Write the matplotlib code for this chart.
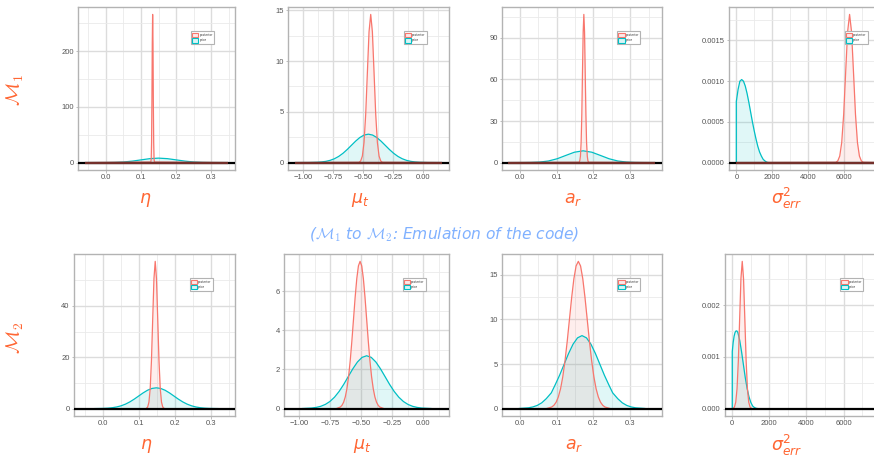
import matplotlib
matplotlib.use("Agg")
import matplotlib.pyplot as plt
from matplotlib.patches import Patch
from matplotlib.colors import to_rgba

# ---------------- data ----------------
# Row M1
m1_eta_post_x = [-0.059, 0.128, 0.129, 0.130, 0.131, 0.132, 0.133, 0.134, 0.135, 0.136, 0.137, 0.138, 0.346]
m1_eta_post_y = [0, 1, 7.6, 36, 109, 213, 266, 213, 109, 36, 7.6, 1, 0]
m1_eta_prior_x = [-0.059, 0.0, 0.025, 0.05, 0.075, 0.10, 0.125, 0.15, 0.175, 0.20, 0.225, 0.25, 0.275, 0.30, 0.346]
m1_eta_prior_y = [0, 0.09, 0.35, 1.08, 2.6, 4.85, 7.06, 8.0, 7.06, 4.85, 2.6, 1.08, 0.35, 0.09, 0]

m1_mu_post_x = [-1.07, -0.533, -0.519, -0.505, -0.491, -0.477, -0.463, -0.449, -0.435, -0.421, -0.407,
                -0.393, -0.379, -0.365, -0.351, -0.337, 0.16]
m1_mu_post_y = [0, 0.03, 0.16, 0.64, 1.98, 4.74, 8.85, 12.88, 14.6, 12.88, 8.85, 4.74, 1.98, 0.64, 0.16, 0.03, 0]
m1_mu_prior_x = [-1.07, -0.952, -0.881, -0.8455, -0.81, -0.7745, -0.739, -0.7035, -0.668, -0.6325, -0.597,
                 -0.5615, -0.526, -0.4905, -0.455, -0.4195, -0.384, -0.3485, -0.313, -0.2775, -0.242,
                 -0.2065, -0.171, -0.1355, -0.10, -0.0645, -0.029, 0.042, 0.16]
m1_mu_prior_y = [0, 0.006, 0.031, 0.064, 0.123, 0.223, 0.379, 0.606, 0.909, 1.282, 1.698, 2.113, 2.471,
                 2.714, 2.8, 2.714, 2.471, 2.113, 1.698, 1.282, 0.909, 0.606, 0.379, 0.223, 0.123, 0.064,
                 0.031, 0.006, 0]

m1_ar_post_x = [-0.031, 0.1611, 0.1629, 0.1648, 0.1666, 0.1685, 0.1703, 0.1722, 0.174, 0.1759, 0.1777,
                0.1796, 0.1814, 0.1833, 0.1851, 0.1870, 0.367]
m1_ar_post_y = [0, 0.24, 1.19, 4.70, 14.5, 34.7, 64.9, 94.4, 107, 94.4, 64.9, 34.7, 14.5, 4.70, 1.19, 0.24, 0]
m1_ar_prior_x = [-0.031, 0.0075, 0.031, 0.0545, 0.078, 0.1015, 0.125, 0.1485, 0.172, 0.1955, 0.219,
                 0.2425, 0.266, 0.2895, 0.313, 0.3365, 0.367]
m1_ar_prior_y = [0, 0.019, 0.094, 0.373, 1.15, 2.76, 5.16, 7.50, 8.5, 7.50, 5.16, 2.76, 1.15, 0.373,
                 0.094, 0.019, 0]

m1_sig_post_x = [0, 5560, 5670, 5780, 5890, 6000, 6110, 6220, 6330, 6440, 6550, 6660, 6770, 6880,
                 6990, 7100, 8180]
m1_sig_post_y = [0, 0.000004, 0.00002, 0.00008, 0.000246, 0.000591, 0.001104, 0.001606, 0.00182,
                 0.001606, 0.001104, 0.000591, 0.000246, 0.00008, 0.00002, 0.000004, 0]
m1_sig_prior_x = [0, 0, 100, 200, 300, 400, 500, 600, 700, 800, 900, 1000, 1100, 1200, 1300, 1400,
                  1500, 1600, 1700, 1800, 8180]
m1_sig_prior_y = [0, 0.00075, 0.00090, 0.00100, 0.00102, 0.00100, 0.00094, 0.00085, 0.00074, 0.00062,
                  0.00050, 0.00039, 0.00029, 0.00020, 0.00013, 0.00008, 0.00004, 0.00002, 0.000005, 0, 0]

# Row M2
m2_eta_post_x = [0.1215, 0.125, 0.1285, 0.132, 0.1355, 0.139, 0.1425, 0.146, 0.1495, 0.153, 0.1565,
                 0.160, 0.1635, 0.167, 0.1705]
m2_eta_post_y = [0.13, 0.64, 2.52, 7.75, 18.6, 34.75, 50.57, 57.3, 50.57, 34.75, 18.6, 7.75, 2.52, 0.64, 0.13]
m2_eta_prior_x = [-0.0225, 0.002, 0.01425, 0.0265, 0.03875, 0.051, 0.06325, 0.0755, 0.08775, 0.100,
                  0.11225, 0.1245, 0.13675, 0.149, 0.16125, 0.1735, 0.18575, 0.198, 0.21025, 0.2225,
                  0.23475, 0.247, 0.25925, 0.2715, 0.28375, 0.296, 0.3205]
m2_eta_prior_y = [0.018, 0.09, 0.185, 0.356, 0.645, 1.10, 1.752, 2.63, 3.708, 4.91, 6.114, 7.15, 7.851,
                  8.1, 7.851, 7.15, 6.114, 4.91, 3.708, 2.63, 1.752, 1.10, 0.645, 0.356, 0.185, 0.09, 0.018]

m2_mu_post_x = [-0.6955, -0.669, -0.65575, -0.6425, -0.62925, -0.616, -0.60275, -0.5895, -0.5763, -0.563,
                -0.5498, -0.5365, -0.5233, -0.51, -0.4968, -0.4835, -0.4703, -0.457, -0.4438, -0.4305,
                -0.41725, -0.404, -0.39075, -0.3775, -0.36425, -0.351, -0.3245]
m2_mu_post_y = [0.017, 0.083, 0.171, 0.33, 0.599, 1.02, 1.627, 2.44, 3.44, 4.56, 5.68, 6.64, 7.29, 7.52,
                7.29, 6.64, 5.68, 4.56, 3.44, 2.44, 1.627, 1.02, 0.599, 0.33, 0.171, 0.083, 0.017]
m2_mu_prior_x = [-0.975, -0.901, -0.864, -0.827, -0.79, -0.753, -0.716, -0.679, -0.642, -0.605, -0.568,
                 -0.531, -0.494, -0.457, -0.42, -0.383, -0.346, -0.309, -0.272, -0.235, -0.198, -0.161,
                 -0.124, -0.087, -0.05, -0.013, 0.061]
m2_mu_prior_y = [0.006, 0.030, 0.062, 0.119, 0.215, 0.365, 0.584, 0.877, 1.236, 1.638, 2.038, 2.383,
                 2.617, 2.7, 2.617, 2.383, 2.038, 1.638, 1.236, 0.877, 0.584, 0.365, 0.215, 0.119, 0.062,
                 0.030, 0.006]

m2_ar_post_x = [0.0743, 0.0864, 0.09245, 0.0985, 0.10455, 0.1106, 0.11665, 0.1227, 0.12875, 0.1348,
                0.14085, 0.1469, 0.15295, 0.159, 0.16505, 0.1711, 0.17715, 0.1832, 0.18925, 0.1953,
                0.20135, 0.2074, 0.21345, 0.2195, 0.22555, 0.2316, 0.2437]
m2_ar_post_y = [0.036, 0.18, 0.376, 0.72, 1.313, 2.23, 3.569, 5.36, 7.55, 10.0, 12.45, 14.56, 15.99, 16.5,
                15.99, 14.56, 12.45, 10.0, 7.55, 5.36, 3.569, 2.23, 1.313, 0.72, 0.376, 0.18, 0.036]
m2_ar_prior_x = [-0.0018, 0.0226, 0.0348, 0.047, 0.0592, 0.0714, 0.0854, 0.0958, 0.108, 0.1202, 0.1324,
                 0.1446, 0.1568, 0.169, 0.1812, 0.1934, 0.2056, 0.2178, 0.230, 0.2422, 0.2526, 0.2666,
                 0.2788, 0.291, 0.3032, 0.3154, 0.3398]
m2_ar_prior_y = [0.018, 0.091, 0.187, 0.359, 0.651, 1.107, 1.769, 2.656, 3.745, 4.961, 6.174, 7.219,
                 7.928, 8.18, 7.928, 7.219, 6.174, 4.961, 3.745, 2.656, 1.769, 1.107, 0.651, 0.359,
                 0.187, 0.091, 0.018]

m2_sig_post_x = [47, 117, 187, 257, 327, 397, 467, 537, 607, 677, 747, 817, 887, 957, 1027]
m2_sig_post_y = [0.0000063, 0.0000316, 0.000125, 0.000385, 0.000923, 0.001724, 0.002509, 0.002843,
                 0.002509, 0.001724, 0.000923, 0.000385, 0.000125, 0.0000316, 0.0000063]
m2_sig_prior_x = [0, 0, 50, 100, 150, 200, 250, 300, 400, 500, 600, 700, 800, 900, 1000, 1100, 1200, 1300, 1400]
m2_sig_prior_y = [0, 0.00110, 0.00128, 0.00140, 0.00147, 0.00150, 0.00150, 0.00147, 0.00132, 0.00110,
                  0.00085, 0.00060, 0.00039, 0.00023, 0.00012, 0.00005, 0.00002, 0.000005, 0]

# tick values
eta_xticks = [0.0, 0.1, 0.2, 0.3]
mu_xticks = [-1.00, -0.75, -0.50, -0.25, 0.00]
ar_xticks = [0.0, 0.1, 0.2, 0.3]
sig_xticks = [0, 2000, 4000, 6000]

m1_eta_yticks = [0, 100, 200]
m1_mu_yticks = [0, 5, 10, 15]
m1_ar_yticks = [0, 30, 60, 90]
m1_sig_yticks = [0.0, 0.0005, 0.0010, 0.0015]
m2_eta_yticks = [0, 20, 40]
m2_mu_yticks = [0, 2, 4, 6]
m2_ar_yticks = [0, 5, 10, 15]
m2_sig_yticks = [0.000, 0.001, 0.002]

legend_labels = ["posterior", "prior"]
row_labels = [r"$\mathcal{M}_1$", r"$\mathcal{M}_2$"]
x_labels = [r"$\eta$", r"$\mu_t$", r"$a_r$", r"$\sigma^2_{err}$"]
title_text = r"($\mathcal{M}_1$ to $\mathcal{M}_2$: Emulation of the code)"

# ---------------- style ----------------
RED = "#F8766D"
TEAL = "#00BFC4"
LABEL_COLOR = "#FF6633"
TITLE_COLOR = "#80B1FF"
W, H = 874, 457

fig = plt.figure(figsize=(W / 100, H / 100), dpi=100)
fig.patch.set_facecolor("white")


def add_axes_px(l, t, r, b):
    return fig.add_axes([l / W, 1 - b / H, (r - l) / W, (b - t) / H])


def fmt_ticks(vals, fmt):
    return [fmt.format(v).replace("-", "\u2212") for v in vals]


def minors(ticks):
    step = ticks[1] - ticks[0]
    return [t + step / 2 for t in [ticks[0] - step] + list(ticks)] + [ticks[-1] + 1.5 * step]


panels = [
    dict(row=0, box=(78, 7, 235, 170), xlim=(-0.079, 0.367), xt=eta_xticks, xf="{:.1f}",
         yt=m1_eta_yticks, yf="{:.0f}", post=(m1_eta_post_x, m1_eta_post_y),
         prior=(m1_eta_prior_x, m1_eta_prior_y), lab=0, lpos=(145, 200)),
    dict(row=0, box=(288, 7, 449, 170), xlim=(-1.128, 0.221), xt=mu_xticks, xf="{:.2f}",
         yt=m1_mu_yticks, yf="{:.0f}", post=(m1_mu_post_x, m1_mu_post_y),
         prior=(m1_mu_prior_x, m1_mu_prior_y), lab=1, lpos=(360, 200)),
    dict(row=0, box=(502, 7, 662, 170), xlim=(-0.048, 0.386), xt=ar_xticks, xf="{:.1f}",
         yt=m1_ar_yticks, yf="{:.0f}", post=(m1_ar_post_x, m1_ar_post_y),
         prior=(m1_ar_prior_x, m1_ar_prior_y), lab=2, lpos=(573, 199)),
    dict(row=0, box=(729, 7, 890, 170), xlim=(-409, 8589), xt=sig_xticks, xf="{:.0f}",
         yt=m1_sig_yticks, yf="{:.4f}", post=(m1_sig_post_x, m1_sig_post_y),
         prior=(m1_sig_prior_x, m1_sig_prior_y), lab=3, lpos=(787, 198)),
    dict(row=1, box=(74, 254, 235, 416), xlim=(-0.080, 0.368), xt=eta_xticks, xf="{:.1f}",
         yt=m2_eta_yticks, yf="{:.0f}", post=(m2_eta_post_x, m2_eta_post_y),
         prior=(m2_eta_prior_x, m2_eta_prior_y), lab=0, lpos=(146, 446)),
    dict(row=1, box=(284, 254, 449, 416), xlim=(-1.123, 0.2065), xt=mu_xticks, xf="{:.2f}",
         yt=m2_mu_yticks, yf="{:.0f}", post=(m2_mu_post_x, m2_mu_post_y),
         prior=(m2_mu_prior_x, m2_mu_prior_y), lab=1, lpos=(362, 446)),
    dict(row=1, box=(502, 254, 662, 416), xlim=(-0.049, 0.387), xt=ar_xticks, xf="{:.1f}",
         yt=m2_ar_yticks, yf="{:.0f}", post=(m2_ar_post_x, m2_ar_post_y),
         prior=(m2_ar_prior_x, m2_ar_prior_y), lab=2, lpos=(574, 445)),
    dict(row=1, box=(725, 254, 885, 416), xlim=(-392, 8232), xt=sig_xticks, xf="{:.0f}",
         yt=m2_sig_yticks, yf="{:.3f}", post=(m2_sig_post_x, m2_sig_post_y),
         prior=(m2_sig_prior_x, m2_sig_prior_y), lab=3, lpos=(787, 445)),
]

for p in panels:
    ax = add_axes_px(*p["box"])
    ax.set_facecolor("white")
    qx, qy = p["post"]
    px_, py_ = p["prior"]
    ymax = max(max(qy), max(py_))

    ax.set_xticks(p["xt"])
    ax.set_xticklabels(fmt_ticks(p["xt"], p["xf"]))
    ax.set_yticks(p["yt"])
    ax.set_yticklabels(fmt_ticks(p["yt"], p["yf"]))
    ax.set_xticks(minors(p["xt"]), minor=True)
    ax.set_yticks(minors(p["yt"]), minor=True)
    ax.set_xlim(*p["xlim"])
    ax.set_ylim(-0.05 * ymax, 1.05 * ymax)

    for s in ax.spines.values():
        s.set_color("#B3B3B3")
        s.set_linewidth(1.0)
    ax.grid(which="major", color="#DCDCDC", lw=1.0)
    ax.grid(which="minor", color="#EAEAEA", lw=0.6)
    ax.set_axisbelow(True)
    ax.tick_params(which="major", length=1.8, width=0.6, color="#B3B3B3",
                   labelsize=5.5, labelcolor="#555555", pad=1.3)
    ax.tick_params(which="minor", length=0)
    for lab in ax.get_xticklabels() + ax.get_yticklabels():
        lab.set_fontfamily("Liberation Sans")

    ax.fill_between(px_, py_, 0, color=TEAL, alpha=0.12, lw=0, zorder=2)
    ax.fill_between(qx, qy, 0, color=RED, alpha=0.12, lw=0, zorder=2)
    ax.plot(px_, py_, color=TEAL, lw=0.9, zorder=3)
    ax.plot(qx, qy, color=RED, lw=0.9, zorder=3)
    ax.axhline(0, color="black", lw=1.6, zorder=4)
    if p["row"] == 0:
        ax.plot([min(qx), max(qx)], [0, 0], color="#74302B", lw=1.6, zorder=5,
                solid_capstyle="butt")

    handles = [Patch(facecolor=to_rgba(RED, 0.15), edgecolor=RED, lw=0.8, label=legend_labels[0]),
               Patch(facecolor=to_rgba(TEAL, 0.15), edgecolor=TEAL, lw=0.8, label=legend_labels[1])]
    leg = ax.legend(handles=handles, loc="upper left", bbox_to_anchor=(0.72, 0.85),
                    fontsize=2.2, handlelength=2.0, handleheight=2.0, borderpad=0.4,
                    labelspacing=0.15, handletextpad=0.3, borderaxespad=0, frameon=True,
                    fancybox=False, edgecolor="#B3B3B3", framealpha=1)
    leg.get_frame().set_linewidth(0.8)
    for t in leg.get_texts():
        t.set_color("#333333")
    leg.set_zorder(10)

    lx, ly = p["lpos"]
    fig.text(lx / W, 1 - ly / H, x_labels[p["lab"]], color=LABEL_COLOR, fontsize=12.5,
             ha="center", va="center")

fig.text(15 / W, 1 - 90 / H, row_labels[0], rotation=90, fontsize=14, color=LABEL_COLOR,
         math_fontfamily="cm", ha="center", va="center")
fig.text(15 / W, 1 - 338 / H, row_labels[1], rotation=90, fontsize=14, color=LABEL_COLOR,
         math_fontfamily="cm", ha="center", va="center")
fig.text(444 / W, 1 - 235 / H, title_text, color=TITLE_COLOR, fontsize=11.2, style="italic",
         math_fontfamily="cm", ha="center", va="center")

fig.savefig("out.png", dpi=100, facecolor="white")
